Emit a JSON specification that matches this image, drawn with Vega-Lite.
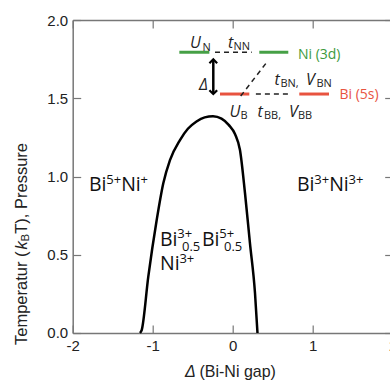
{
  "$schema": "https://vega.github.io/schema/vega-lite/v6.json",
  "width": 320,
  "height": 313,
  "autosize": {"type": "none"},
  "padding": {"left": 72.7, "top": 20, "right": 0, "bottom": 50},
  "background": "white",
  "config": {
    "view": {"stroke": null},
    "axis": {
      "grid": false,
      "domainColor": "#777777",
      "tickColor": "#777777",
      "domainWidth": 1.5,
      "tickWidth": 1.2,
      "tickSize": -8,
      "labelFont": "Liberation Sans",
      "labelFontSize": 15,
      "labelColor": "#222222",
      "labelFlush": false,
      "labelOverlap": false
    }
  },
  "datasets": {
    "curve": [
      {"x": -1.159, "y": 0},
      {"x": -1.1375, "y": 0.019},
      {"x": -1.055, "y": 0.36},
      {"x": -0.95, "y": 0.722},
      {"x": -0.8675, "y": 0.957},
      {"x": -0.784, "y": 1.105},
      {"x": -0.659, "y": 1.233},
      {"x": -0.56, "y": 1.305},
      {"x": -0.4525, "y": 1.352},
      {"x": -0.35, "y": 1.378},
      {"x": -0.246, "y": 1.385},
      {"x": -0.14, "y": 1.37},
      {"x": -0.05, "y": 1.33},
      {"x": 0.03, "y": 1.27},
      {"x": 0.091, "y": 1.169},
      {"x": 0.154, "y": 0.893},
      {"x": 0.216, "y": 0.573},
      {"x": 0.279, "y": 0.254},
      {"x": 0.31, "y": 0}
    ],
    "segs": [
      {"x": -0.667, "x2": -0.292, "y": 1.794, "y2": 1.794, "kind": "green"},
      {"x": 0.3325, "x2": 0.695, "y": 1.794, "y2": 1.794, "kind": "green"},
      {"x": -0.159, "x2": 0.2075, "y": 1.527, "y2": 1.527, "kind": "red"},
      {"x": 0.8325, "x2": 1.204, "y": 1.527, "y2": 1.527, "kind": "red"},
      {"x": -0.221, "x2": 0.2375, "y": 1.794, "y2": 1.794, "kind": "dash"},
      {"x": 0.29, "x2": 0.7375, "y": 1.527, "y2": 1.527, "kind": "dash"},
      {"x": 0.1, "x2": 0.4325, "y": 1.514, "y2": 1.734, "kind": "dash"},
      {"x": -0.2425, "x2": -0.2425, "y": 1.53, "y2": 1.746, "kind": "arrow"}
    ],
    "heads": [
      {"x": -0.2425, "y": 1.749, "dir": "up"},
      {"x": -0.2425, "y": 1.527, "dir": "down"}
    ],
    "txt": [
      {"x": -1.796, "y": 0.907, "text": "Bi", "kind": "main"},
      {"x": -1.58, "y": 0.955, "text": "5+", "kind": "sup"},
      {"x": -1.394, "y": 0.907, "text": "Ni", "kind": "main"},
      {"x": -1.151, "y": 0.955, "text": "+", "kind": "sup"},
      {"x": 0.804, "y": 0.907, "text": "Bi", "kind": "main"},
      {"x": 1.02, "y": 0.955, "text": "3+", "kind": "sup"},
      {"x": 1.206, "y": 0.907, "text": "Ni", "kind": "main"},
      {"x": 1.449, "y": 0.955, "text": "3+", "kind": "sup"},
      {"x": -0.909, "y": 0.556, "text": "Bi", "kind": "main"},
      {"x": -0.6925, "y": 0.604, "text": "3+", "kind": "sup"},
      {"x": -0.634, "y": 0.521, "text": "0.5", "kind": "sup"},
      {"x": -0.384, "y": 0.556, "text": "Bi", "kind": "main"},
      {"x": -0.1675, "y": 0.604, "text": "5+", "kind": "sup"},
      {"x": -0.109, "y": 0.521, "text": "0.5", "kind": "sup"},
      {"x": -0.909, "y": 0.4026, "text": "Ni", "kind": "main"},
      {"x": -0.666, "y": 0.45, "text": "3+", "kind": "sup"},
      {"x": -0.534, "y": 1.821, "text": "U", "kind": "it"},
      {"x": -0.378, "y": 1.805, "text": "N", "kind": "itsub"},
      {"x": -0.059, "y": 1.821, "text": "t", "kind": "it"},
      {"x": 0.01, "y": 1.808, "text": "NN", "kind": "itsub"},
      {"x": -0.421, "y": 1.553, "text": "Δ", "kind": "it"},
      {"x": 0.5225, "y": 1.585, "text": "t", "kind": "it"},
      {"x": 0.5975, "y": 1.569, "text": "BN,", "kind": "itsub"},
      {"x": 0.916, "y": 1.585, "text": "V", "kind": "it"},
      {"x": 1.0475, "y": 1.569, "text": "BN", "kind": "itsub"},
      {"x": -0.04, "y": 1.383, "text": "U", "kind": "it"},
      {"x": 0.0975, "y": 1.367, "text": "B", "kind": "itsub"},
      {"x": 0.31, "y": 1.383, "text": "t", "kind": "it"},
      {"x": 0.391, "y": 1.367, "text": "BB,", "kind": "itsub"},
      {"x": 0.704, "y": 1.383, "text": "V", "kind": "it"},
      {"x": 0.816, "y": 1.367, "text": "BB", "kind": "itsub"},
      {"x": 0.816, "y": 1.748, "text": "Ni (3d)", "kind": "green"},
      {"x": 1.335, "y": 1.495, "text": "Bi (5s)", "kind": "red"},
      {"x": -2.634, "y": -0.0767, "text": "Temperatur (", "kind": "yt"},
      {"x": -2.634, "y": 0.533, "text": "k", "kind": "ytit"},
      {"x": -2.584, "y": 0.585, "text": "B", "kind": "ytsub"},
      {"x": -2.634, "y": 0.6345, "text": "T), Pressure", "kind": "yt"},
      {"x": -0.596, "y": -0.281, "text": "Δ", "kind": "xtit"},
      {"x": -0.415, "y": -0.281, "text": "(Bi-Ni gap)", "kind": "xt"}
    ]
  },
  "layer": [
    {
      "data": {"name": "curve"},
      "mark": {"type": "line", "interpolate": "monotone", "color": "black", "strokeWidth": 2.5},
      "encoding": {
        "x": {"field": "x", "type": "quantitative", "scale": {"domain": [-2, 2], "nice": false, "zero": false},
          "axis": {"orient": "bottom", "values": [-2, -1, 0, 1, 2], "title": null, "labelPadding": 14, "labelExpr": "'' + datum.value"}},
        "y": {"field": "y", "type": "quantitative", "scale": {"domain": [0, 2], "nice": false},
          "axis": {"orient": "left", "values": [0, 0.5, 1, 1.5, 2], "title": null, "labelPadding": 13, "format": ".1f"}}
      }
    },
    {
      "data": {"name": "curve"},
      "mark": {"type": "line", "strokeOpacity": 0},
      "encoding": {
        "x": {"field": "x", "type": "quantitative", "axis": {"orient": "top", "values": [-2, -1, 0, 1, 2], "labels": false, "title": null}},
        "y": {"field": "y", "type": "quantitative", "axis": {"orient": "right", "values": [0, 0.5, 1, 1.5, 2], "labels": false, "title": null}}
      }
    },
    {
      "data": {"name": "segs"},
      "transform": [{"filter": "datum.kind === 'green'"}],
      "mark": {"type": "rule", "color": "#46a046", "strokeWidth": 3},
      "encoding": {
        "x": {"field": "x", "type": "quantitative", "axis": null},
        "x2": {"field": "x2"},
        "y": {"field": "y", "type": "quantitative", "axis": null},
        "y2": {"field": "y2"}
      }
    },
    {
      "data": {"name": "segs"},
      "transform": [{"filter": "datum.kind === 'red'"}],
      "mark": {"type": "rule", "color": "#e8533f", "strokeWidth": 3},
      "encoding": {
        "x": {"field": "x", "type": "quantitative", "axis": null},
        "x2": {"field": "x2"},
        "y": {"field": "y", "type": "quantitative", "axis": null},
        "y2": {"field": "y2"}
      }
    },
    {
      "data": {"name": "segs"},
      "transform": [{"filter": "datum.kind === 'dash'"}],
      "mark": {"type": "rule", "color": "#222222", "strokeWidth": 1.5, "strokeDash": [5, 4]},
      "encoding": {
        "x": {"field": "x", "type": "quantitative", "axis": null},
        "x2": {"field": "x2"},
        "y": {"field": "y", "type": "quantitative", "axis": null},
        "y2": {"field": "y2"}
      }
    },
    {
      "data": {"name": "segs"},
      "transform": [{"filter": "datum.kind === 'arrow'"}],
      "mark": {"type": "rule", "color": "black", "strokeWidth": 2.5},
      "encoding": {
        "x": {"field": "x", "type": "quantitative", "axis": null},
        "x2": {"field": "x2"},
        "y": {"field": "y", "type": "quantitative", "axis": null},
        "y2": {"field": "y2"}
      }
    },
    {
      "data": {"name": "heads"},
      "transform": [{"filter": "datum.dir === 'up'"}],
      "mark": {"type": "point", "shape": "M-1,1L0,0L1,1", "filled": false, "stroke": "black", "strokeWidth": 2.2, "size": 60, "opacity": 1},
      "encoding": {
        "x": {"field": "x", "type": "quantitative", "axis": null},
        "y": {"field": "y", "type": "quantitative", "axis": null}
      }
    },
    {
      "data": {"name": "heads"},
      "transform": [{"filter": "datum.dir === 'down'"}],
      "mark": {"type": "point", "shape": "M-1,-1L0,0L1,-1", "filled": false, "stroke": "black", "strokeWidth": 2.2, "size": 60, "opacity": 1},
      "encoding": {
        "x": {"field": "x", "type": "quantitative", "axis": null},
        "y": {"field": "y", "type": "quantitative", "axis": null}
      }
    },
    {
      "data": {"name": "txt"},
      "transform": [{"filter": "datum.kind === 'main'"}],
      "mark": {"type": "text", "font": "Open Sans", "fontSize": 19.5, "align": "left", "baseline": "alphabetic", "color": "#111111"},
      "encoding": {
        "x": {"field": "x", "type": "quantitative", "axis": null},
        "y": {"field": "y", "type": "quantitative", "axis": null},
        "text": {"field": "text"}
      }
    },
    {
      "data": {"name": "txt"},
      "transform": [{"filter": "datum.kind === 'sup'"}],
      "mark": {"type": "text", "font": "Open Sans", "fontSize": 13, "align": "left", "baseline": "alphabetic", "color": "#111111"},
      "encoding": {
        "x": {"field": "x", "type": "quantitative", "axis": null},
        "y": {"field": "y", "type": "quantitative", "axis": null},
        "text": {"field": "text"}
      }
    },
    {
      "data": {"name": "txt"},
      "transform": [{"filter": "datum.kind === 'it'"}],
      "mark": {"type": "text", "font": "Open Sans", "fontStyle": "italic", "fontSize": 16, "align": "left", "baseline": "alphabetic", "color": "#222222"},
      "encoding": {
        "x": {"field": "x", "type": "quantitative", "axis": null},
        "y": {"field": "y", "type": "quantitative", "axis": null},
        "text": {"field": "text"}
      }
    },
    {
      "data": {"name": "txt"},
      "transform": [{"filter": "datum.kind === 'itsub'"}],
      "mark": {"type": "text", "font": "Open Sans", "fontSize": 11, "align": "left", "baseline": "alphabetic", "color": "#222222"},
      "encoding": {
        "x": {"field": "x", "type": "quantitative", "axis": null},
        "y": {"field": "y", "type": "quantitative", "axis": null},
        "text": {"field": "text"}
      }
    },
    {
      "data": {"name": "txt"},
      "transform": [{"filter": "datum.kind === 'green'"}],
      "mark": {"type": "text", "font": "Open Sans", "fontSize": 14, "align": "left", "baseline": "alphabetic", "color": "#3d9a3d"},
      "encoding": {
        "x": {"field": "x", "type": "quantitative", "axis": null},
        "y": {"field": "y", "type": "quantitative", "axis": null},
        "text": {"field": "text"}
      }
    },
    {
      "data": {"name": "txt"},
      "transform": [{"filter": "datum.kind === 'red'"}],
      "mark": {"type": "text", "font": "Open Sans", "fontSize": 14, "align": "left", "baseline": "alphabetic", "color": "#e8533f"},
      "encoding": {
        "x": {"field": "x", "type": "quantitative", "axis": null},
        "y": {"field": "y", "type": "quantitative", "axis": null},
        "text": {"field": "text"}
      }
    },
    {
      "data": {"name": "txt"},
      "transform": [{"filter": "datum.kind === 'yt'"}],
      "mark": {"type": "text", "font": "Liberation Sans", "fontSize": 16.5, "angle": 270, "align": "left", "baseline": "middle", "color": "#222222"},
      "encoding": {
        "x": {"field": "x", "type": "quantitative", "axis": null},
        "y": {"field": "y", "type": "quantitative", "axis": null},
        "text": {"field": "text"}
      }
    },
    {
      "data": {"name": "txt"},
      "transform": [{"filter": "datum.kind === 'ytit'"}],
      "mark": {"type": "text", "font": "Liberation Sans", "fontStyle": "italic", "fontSize": 16.5, "angle": 270, "align": "left", "baseline": "middle", "color": "#222222"},
      "encoding": {
        "x": {"field": "x", "type": "quantitative", "axis": null},
        "y": {"field": "y", "type": "quantitative", "axis": null},
        "text": {"field": "text"}
      }
    },
    {
      "data": {"name": "txt"},
      "transform": [{"filter": "datum.kind === 'ytsub'"}],
      "mark": {"type": "text", "font": "Liberation Sans", "fontSize": 11.5, "angle": 270, "align": "left", "baseline": "middle", "color": "#222222"},
      "encoding": {
        "x": {"field": "x", "type": "quantitative", "axis": null},
        "y": {"field": "y", "type": "quantitative", "axis": null},
        "text": {"field": "text"}
      }
    },
    {
      "data": {"name": "txt"},
      "transform": [{"filter": "datum.kind === 'xt'"}],
      "mark": {"type": "text", "font": "Liberation Sans", "fontSize": 16, "align": "left", "baseline": "alphabetic", "color": "#222222"},
      "encoding": {
        "x": {"field": "x", "type": "quantitative", "axis": null},
        "y": {"field": "y", "type": "quantitative", "axis": null},
        "text": {"field": "text"}
      }
    },
    {
      "data": {"name": "txt"},
      "transform": [{"filter": "datum.kind === 'xtit'"}],
      "mark": {"type": "text", "font": "Liberation Sans", "fontStyle": "italic", "fontSize": 16, "align": "left", "baseline": "alphabetic", "color": "#222222"},
      "encoding": {
        "x": {"field": "x", "type": "quantitative", "axis": null},
        "y": {"field": "y", "type": "quantitative", "axis": null},
        "text": {"field": "text"}
      }
    }
  ],
  "resolve": {"axis": {"x": "independent", "y": "independent"}}
}
